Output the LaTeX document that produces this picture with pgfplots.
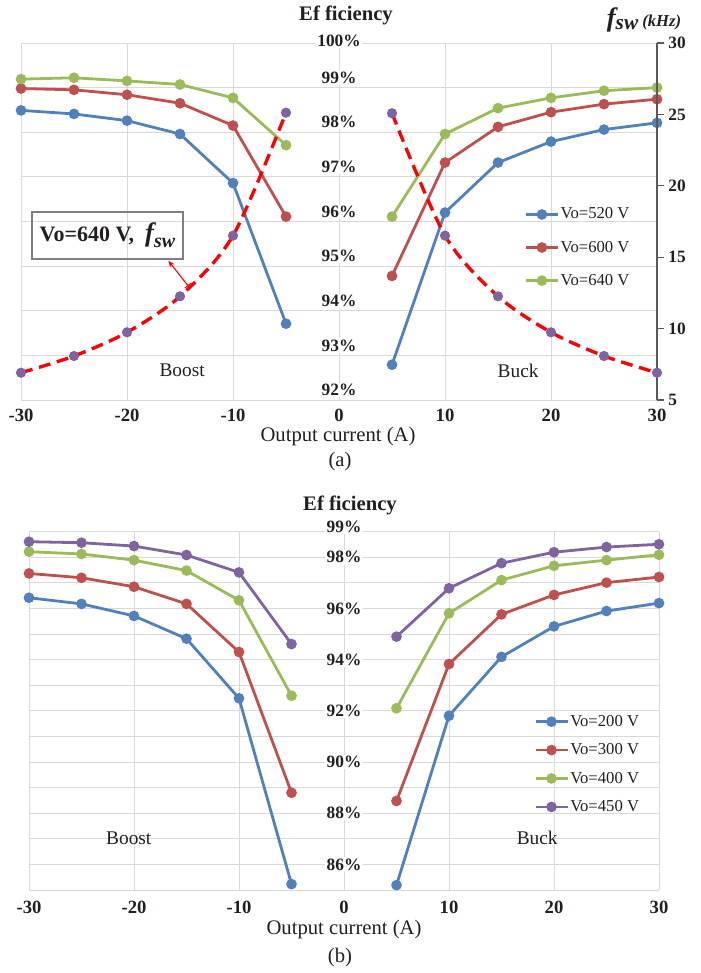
\documentclass[border=0pt]{standalone}
\usepackage{fontspec}
\setmainfont{Liberation Serif}
\usepackage{pgfplots}
\pgfplotsset{compat=1.18}
\usetikzlibrary{arrows.meta}

\definecolor{cBlue}{HTML}{4F81BD}
\definecolor{cRed}{HTML}{C0504D}
\definecolor{cGreen}{HTML}{9BBB59}
\definecolor{cPurple}{HTML}{8064A2}
\definecolor{gridgray}{HTML}{D9D9D9}
\definecolor{axgray}{HTML}{595959}
\definecolor{boxgray}{HTML}{7F7F7F}
\definecolor{txt}{HTML}{231F20}

\tikzset{
  efflabel/.style={fill=white, inner sep=1pt, font=\fontsize{13}{15}\selectfont\bfseries, text=txt},
}

\pgfplotsset{
  effaxis/.style={
    scale only axis, anchor=south west, clip=false,
    xmin=-30, xmax=30,
    xtick={-30,-20,-10,0,10,20,30},
    xticklabels={-30,-20,-10,0,10,20,30},
    xmajorgrids, ymajorgrids,
    grid style={gridgray, line width=0.7pt},
    axis line style={draw=none},
    major tick length=0pt,
    yticklabel={\phantom{0}},
    xticklabel style={font=\fontsize{14}{16}\selectfont\bfseries, text=txt},
    unbounded coords=jump,
    legend cell align=left,
    legend image code/.code={\draw[mark repeat=2,mark phase=2] plot coordinates {(0pt,0pt)(12pt,0pt)(24pt,0pt)};},
  },
  series/.style={line width=2.1pt, mark=*, mark size=2.9pt, mark options={solid}},
  fsw/.style={red, line width=2.5pt, dash pattern=on 9pt off 5pt, smooth, tension=0.5,
    mark=*, mark size=2.5pt, mark options={solid, fill=cPurple, draw=cPurple}},
}

\begin{document}
\begin{tikzpicture}
\useasboundingbox (0,0) rectangle (525pt,729.75pt);

% ---------- (a) efficiency at high output voltage ----------
\begin{axis}[effaxis,
  width=477pt, height=267.75pt, at={(15.75pt,429.75pt)},
  ymin=92, ymax=100, ytick={92,93,94,95,96,97,98,99,100},
  xticklabel style={yshift=-3pt},
  legend style={at={(0.785,0.55)}, anchor=north west, draw=none, fill=none,
    font=\fontsize{12.5}{14}\selectfont, text=txt, row sep=13pt, nodes={inner sep=1pt}}]
\addplot[series, cBlue] coordinates {
  (-30,98.49) (-25,98.41) (-20,98.26) (-15,97.96) (-10,96.86) (-5,93.71)
  (0,nan)
  (5,92.79) (10,96.20) (15,97.32) (20,97.79) (25,98.06) (30,98.21)};
\addlegendentry{Vo=520 V}
\addplot[series, cRed] coordinates {
  (-30,98.98) (-25,98.95) (-20,98.84) (-15,98.65) (-10,98.15) (-5,96.11)
  (0,nan)
  (5,94.78) (10,97.32) (15,98.12) (20,98.45) (25,98.63) (30,98.74)};
\addlegendentry{Vo=600 V}
\addplot[series, cGreen] coordinates {
  (-30,99.19) (-25,99.22) (-20,99.15) (-15,99.07) (-10,98.77) (-5,97.71)
  (0,nan)
  (5,96.11) (10,97.96) (15,98.54) (20,98.77) (25,98.93) (30,99.00)};
\addlegendentry{Vo=640 V}
\pgfplotsinvokeforeach{92,93,94,95,96,97,98,99}{
  \node[efflabel, yshift=7.5pt] at (axis cs:0,#1) {#1\%};
}
\node[efflabel, yshift=1.5pt] at (axis cs:0,100) {100\%};
\node[font=\fontsize{14.5}{16}\selectfont, text=txt] at (axis cs:-14.8,92.67) {Boost};
\node[font=\fontsize{14.5}{16}\selectfont, text=txt] at (axis cs:16.9,92.65) {Buck};
\end{axis}

% switching frequency on the secondary axis
\begin{axis}[scale only axis, anchor=south west, clip=false,
  width=477pt, height=267.75pt, at={(15.75pt,429.75pt)},
  xmin=-30, xmax=30, ymin=5, ymax=30,
  axis x line=none, axis y line*=right,
  ytick={5,10,15,20,25,30}, yticklabels={5,10,15,20,25,30},
  y axis line style={color=axgray, line width=0.9pt, -},
  ytick style={color=axgray, line width=0.9pt},
  major tick length=5pt, tick align=outside,
  yticklabel style={font=\fontsize{13}{15}\selectfont\bfseries, text=txt}]
\addplot[fsw] coordinates {(-30,6.91) (-25,8.08) (-20,9.74) (-15,12.26) (-10,16.51) (-5,25.12)};
\addplot[fsw] coordinates {(5,25.08) (10,16.51) (15,12.26) (20,9.74) (25,8.08) (30,6.91)};
\end{axis}

% ---------- (b) efficiency at low output voltage ----------
\begin{axis}[effaxis,
  width=472.5pt, height=268.7pt, at={(21.75pt,62.25pt)},
  ymin=85, ymax=99, ytick={85,86,...,99},
  xticklabel style={yshift=-4.5pt},
  legend style={at={(0.795,0.5)}, anchor=north west, draw=none, fill=none,
    font=\fontsize{12.5}{14}\selectfont, text=txt, row sep=9.5pt, nodes={inner sep=1pt}}]
\addplot[series, cBlue] coordinates {
  (-30,96.42) (-25,96.18) (-20,95.71) (-15,94.82) (-10,92.49) (-5,85.23)
  (0,nan)
  (5,85.19) (10,91.81) (15,94.11) (20,95.30) (25,95.90) (30,96.21)};
\addlegendentry{Vo=200 V}
\addplot[series, cRed] coordinates {
  (-30,97.37) (-25,97.20) (-20,96.85) (-15,96.18) (-10,94.30) (-5,88.80)
  (0,nan)
  (5,88.48) (10,93.83) (15,95.77) (20,96.53) (25,97.01) (30,97.23)};
\addlegendentry{Vo=300 V}
\addplot[series, cGreen] coordinates {
  (-30,98.22) (-25,98.13) (-20,97.89) (-15,97.48) (-10,96.32) (-5,92.59)
  (0,nan)
  (5,92.10) (10,95.81) (15,97.11) (20,97.67) (25,97.89) (30,98.10)};
\addlegendentry{Vo=400 V}
\addplot[series, cPurple] coordinates {
  (-30,98.61) (-25,98.57) (-20,98.44) (-15,98.09) (-10,97.41) (-5,94.61)
  (0,nan)
  (5,94.90) (10,96.79) (15,97.77) (20,98.20) (25,98.40) (30,98.51)};
\addlegendentry{Vo=450 V}
\pgfplotsinvokeforeach{86,88,90,92,94,96,98}{
  \node[efflabel] at (axis cs:0,#1) {#1\%};
}
\node[efflabel, yshift=3.5pt] at (axis cs:0,99) {99\%};
\node[font=\fontsize{14.5}{16}\selectfont, text=txt] at (axis cs:-20.5,87.04) {Boost};
\node[font=\fontsize{14.5}{16}\selectfont, text=txt] at (axis cs:18.4,87.04) {Buck};
\end{axis}

% titles, axis names and panel captions
\node[font=\fontsize{15.5}{17}\selectfont\bfseries, text=txt] at (259.5pt,718.5pt) {Ef ficiency};
\node[font=\fontsize{15.5}{17}\selectfont\bfseries, text=txt] at (262.5pt,351pt) {Ef ficiency};
\node[text=txt, font=\bfseries\itshape] at (483pt,714.75pt)
  {{\fontsize{20}{22}\selectfont f}\raisebox{-0.5ex}{\fontsize{16}{18}\selectfont sw}\hspace{3pt}{\fontsize{12.5}{14}\selectfont (kHz)}};
\node[font=\fontsize{15.5}{17}\selectfont, text=txt] at (253.5pt,402pt) {Output current (A)};
\node[font=\fontsize{15.5}{17}\selectfont, text=txt] at (255pt,383.25pt) {(a)};
\node[font=\fontsize{15.5}{17}\selectfont, text=txt] at (258pt,32.25pt) {Output current (A)};
\node[font=\fontsize{15.5}{17}\selectfont, text=txt] at (255pt,11.25pt) {(b)};

% label box for the switching-frequency curve
\node[draw=boxgray, line width=0.8pt, minimum width=113.25pt, minimum height=35.25pt,
  inner sep=2pt, text=txt, font=\fontsize{16.5}{18}\selectfont\bfseries] at (80.6pt,553.1pt)
  {Vo=640 V,\ \ {\itshape\fontsize{20}{22}\selectfont f\raisebox{-0.5ex}{\fontsize{15}{16}\selectfont sw}}};
\draw[red, line width=0.8pt, {Bar[width=6pt]}-{Stealth[length=5pt,width=4pt]}]
  (141.2pt,515.25pt) -- (126.2pt,534.2pt);
\end{tikzpicture}
\end{document}
